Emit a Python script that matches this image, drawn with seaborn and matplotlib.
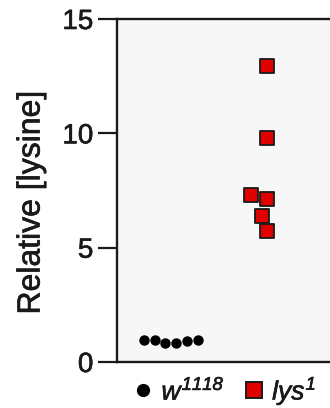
import matplotlib
matplotlib.use("Agg")
import matplotlib.pyplot as plt
import matplotlib.patheffects as pe
from matplotlib.lines import Line2D
import seaborn as sns
import pandas as pd

genotypes = ["w1118", "lys1"]
w1118_values = [0.95, 0.85, 0.90, 0.95, 0.85, 0.95]
lys1_values = [12.95, 9.8, 7.3, 7.13, 6.38, 5.73]
legend_labels = [r"$\mathit{w}^{\mathit{1118}}$", r"$\mathit{lys}^{\mathit{1}}$"]
yticks = [0, 5, 10, 15]

df = pd.DataFrame({
    "genotype": ["w1118"] * len(w1118_values) + ["lys1"] * len(lys1_values),
    "lysine": w1118_values + lys1_values,
})

sns.set_style("ticks")
plt.rcParams["font.family"] = ["Liberation Sans", "DejaVu Sans"]
plt.rcParams["mathtext.fontset"] = "custom"
plt.rcParams["mathtext.it"] = "Liberation Sans:italic"
plt.rcParams["mathtext.rm"] = "Liberation Sans:italic"

ink = "#1a1a1a"
heavy = [pe.Stroke(linewidth=0.45, foreground=ink), pe.Normal()]

fig = plt.figure(figsize=(3.3, 4.08), dpi=100)
ax = fig.add_axes([117 / 330, 46 / 408, 0.70, 343 / 408])
ax.set_facecolor("#f7f7f7")

sns.swarmplot(data=df[df.genotype == "w1118"], x="genotype", y="lysine",
              order=genotypes, color="black", marker="o", size=7.5,
              linewidth=0, ax=ax)
sns.swarmplot(data=df[df.genotype == "lys1"], x="genotype", y="lysine",
              order=genotypes, color="#e00000", marker="s", size=10,
              edgecolor=ink, linewidth=1.3, ax=ax)

ax.set_ylim(0, 15)
ax.set_xlim(-0.65, -0.65 + 231 / 91)
ax.set_yticks(yticks)
ax.set_yticklabels([str(t) for t in yticks], fontsize=20, color=ink)
for t in ax.get_yticklabels():
    t.set_path_effects(heavy)
ax.set_xticks([])
ax.set_xlabel("")
ax.set_ylabel("Relative [lysine]", fontsize=23, color=ink)
ax.yaxis.set_label_coords(-0.305, 0.465)
ax.yaxis.label.set_path_effects(heavy)
ax.tick_params(axis="y", length=14, width=1.6, pad=3, color=ink)
for s in ax.spines.values():
    s.set_linewidth(1.7)
    s.set_color(ink)

handles = [
    Line2D([], [], marker="o", linestyle="", color="black", markersize=8.5),
    Line2D([], [], marker="s", linestyle="", markerfacecolor="#e00000",
           markeredgecolor=ink, markeredgewidth=1.4, markersize=11),
]
leg = fig.legend(handles, legend_labels, loc="center",
                 bbox_to_anchor=(223 / 330, 1 - 391 / 408),
                 ncol=2, frameon=False, fontsize=19, handletextpad=0.2,
                 columnspacing=0.6, handlelength=1.0)
for t in leg.get_texts():
    t.set_color(ink)
    t.set_path_effects(heavy)

fig.savefig("out.png", dpi=100)
